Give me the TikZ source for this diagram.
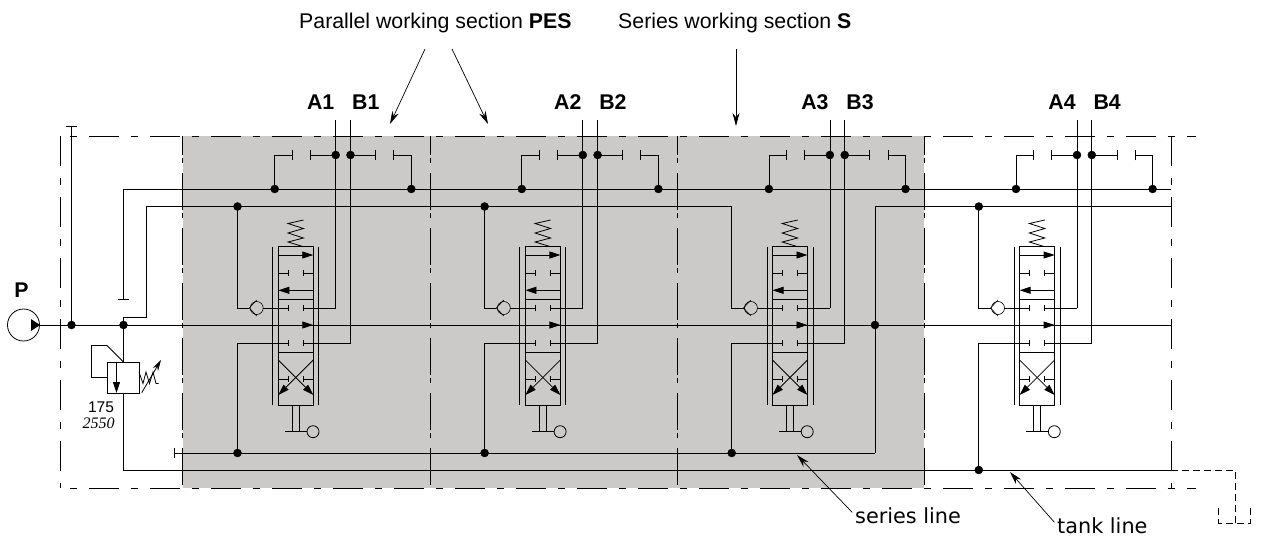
\documentclass[tikz,border=0pt]{standalone}
\usepackage{fontspec}
\setmainfont{Liberation Sans}
\newfontfamily\serifit[ItalicFont=Liberation Serif Italic]{Liberation Serif}
\newfontfamily\notefont{DejaVu Sans}
\usetikzlibrary{arrows.meta}
\definecolor{sectiongray}{HTML}{CBCAC8}
\tikzset{
  pipe/.style={line width=0.8pt,line join=miter},
  stub/.style={pipe,-{Bar[width=6pt,line width=0.8pt]}},
  portcap/.style={pipe,-{Bar[width=10.5pt,line width=0.8pt]}},
  flow/.style={pipe,-{Triangle[length=11pt,width=7pt]}},
  border/.style={line width=0.9pt,dash pattern=on 29.5pt off 12pt on 7.5pt off 12pt},
  divider/.style={line width=0.9pt,dash pattern=on 37pt off 3pt on 4.5pt off 10.5pt},
  pointer/.style={line width=0.7pt,-{Stealth[length=13pt,width=7pt]}},
  drainline/.style={line width=0.6pt,dash pattern=on 7pt off 4pt},
  dot/.style={fill=black,radius=4},
  partlabel/.style={font=\bfseries\fontsize{21.3}{22}\selectfont,inner sep=0pt},
  title/.style={font=\fontsize{21.3}{22}\selectfont,anchor=base west,inner sep=0pt},
  notelabel/.style={font=\notefont\fontsize{20.8}{21}\selectfont,anchor=base west,inner sep=0pt}
}
\begin{document}
\begin{tikzpicture}[x=1pt,y=-1pt]
  \useasboundingbox (0,0) rectangle (1265,538);
  \fill[sectiongray] (183,136) rectangle (924,488);
  % frame and section borders
  \draw[border,dash phase=32.5] (60.5,136)--(1196,136);
  \draw[border,dash phase=32.5] (60.5,488)--(1196,488);
  \foreach \xb in {60.5,1171}
    \draw[border] (\xb,136)--(\xb,488);
  \foreach \xb in {182.5,430,677.5,924}
    \draw[divider,dash phase=17.7] (\xb,136)--(\xb,488);
  % main lines
  \draw[pipe] (39,325)--(1171,325);
  \draw[portcap] (71.5,325)--(71.5,126);
  \draw[portcap] (123.5,189)--(123.5,300);
  \draw[pipe] (123.5,189)--(1171,189);
  \draw[pipe] (123.5,325)--(123.5,317)--(146,317)--(146,206.5)--(732,206.5);
  \draw[pipe] (1171,206.5)--(875,206.5)--(875,453);
  \draw[portcap] (875,453)--(174,453);
  \draw[pipe] (123.5,393)--(123.5,470)--(1171,470);
  \filldraw[dot] (71.5,325) circle;
  \filldraw[dot] (123.5,325) circle;
  \filldraw[dot] (875,325) circle;
  % pump
  \draw[pipe] (23.5,325) circle [radius=16];
  \fill (31,319)--(40,325)--(31,331)--cycle;
  % relief valve
  \draw[pipe] (107.5,362) rectangle (139,393);
  \draw[pipe] (123.5,325)--(123.5,362)--(107,345.5)--(91.5,345.5)--(91.5,377.5)--(107.5,377.5);
  \draw[flow] (116.5,362)--(116.5,393);
  \draw[pipe] (139,372)--(143,383.5)--(146,372)--(149.5,383.5)--(153,372)--(156,383.5)--(158.7,383.5);
  \draw[pipe,-{Stealth[length=11pt,width=6pt]}] (141.7,392.7)--(161,360);
  % working sections
  \foreach \xs/\n [count=\i] in {0/1,247.1/2,494.2/3,741.3/4} {
    \begin{scope}[xshift=\xs pt]
      \node[partlabel,anchor=east] (a\n) at (334.5,102) {A\n};
      \node[partlabel,anchor=west] (b\n) at (352,102) {B\n};
      % ports
      \draw[pipe] (335.7,120)--(335.7,308);
      \draw[stub] (335.7,308)--(303,308);
      \draw[pipe] (350.5,120)--(350.5,343);
      \draw[stub] (350.5,343)--(303,343);
      % port reliefs
      \draw[portcap] (335.7,155)--(310,155);
      \draw[portcap] (274.7,189)--(274.7,155)--(292.7,155);
      \draw[portcap] (350.5,155)--(376,155);
      \draw[portcap] (411.3,189)--(411.3,155)--(393.3,155);
      \filldraw[dot] (335.7,155) circle;
      \filldraw[dot] (350.5,155) circle;
      \filldraw[dot] (274.7,189) circle;
      \filldraw[dot] (411.3,189) circle;
      % check valve
      \draw[pipe] (237.5,206.5)--(237.5,308)--(249.3,308);
      \draw[line width=0.6pt] (256.7,308) circle [radius=6.5];
      \draw[line width=0.6pt] (256.7,300)--(249.3,308)--(256.7,316);
      \draw[stub] (263,308)--(288.3,308);
      % spool
      \draw[pipe] (278.3,246.7) rectangle (313.3,405);
      \draw[pipe] (272.7,246.7)--(272.7,405);
      \draw[pipe] (318.7,246.7)--(318.7,405);
      \draw[pipe] (303.5,246.7)--(288,242)--(303.5,238)--(288,233)--(303.5,228.5)--(288,223.5)--(303.5,220);
      \draw[flow] (278.3,255)--(313.3,255);
      \draw[stub] (278.3,273)--(288.3,273);
      \draw[stub] (313.3,273)--(303,273);
      \draw[flow] (313.3,290.3)--(278.3,290.3);
      \draw[pipe] (278.3,299.3)--(313.3,299.3);
      \draw[flow] (303,325)--(313.3,325);
      \draw[stub] (237.5,343)--(288.3,343);
      \draw[pipe] (278.3,352.3)--(313.3,352.3);
      \draw[flow] (278.3,360)--(313.3,395);
      \draw[flow] (313.3,360)--(278.3,395);
      \draw[stub] (278.3,379)--(288.3,379);
      \draw[stub] (313.3,379)--(303,379);
      % lever
      \draw[pipe] (292.3,405)--(292.3,431.7);
      \draw[pipe] (299.3,405)--(299.3,431.7);
      \draw[pipe] (285,431.7)--(307,431.7);
      \draw[pipe] (313,431.7) circle [radius=6];
      % return
      \ifnum\i<4
        \draw[pipe] (237.5,343)--(237.5,453);
        \filldraw[dot] (237.5,453) circle;
      \else
        \draw[pipe] (237.5,343)--(237.5,470);
        \filldraw[dot] (237.5,470) circle;
      \fi
      \ifnum\i=3\else
        \filldraw[dot] (237.5,206.5) circle;
      \fi
    \end{scope}
  }
  % tank
  \draw[drainline] (1171,470)--(1235,470)--(1235,523);
  \draw[drainline] (1218.5,508)--(1218.5,523)--(1250,523)--(1250,508);
  % labels
  \node[partlabel] (plabel) at (21.5,290) {P};
  \node[font=\fontsize{15.5}{16}\selectfont] (setting) at (101,407) {175};
  \node[font=\serifit\itshape\fontsize{16}{16}\selectfont] (flowrate) at (98.5,423) {2550};
  \node[title] (pes) at (299,28) {Parallel working section \textbf{PES}};
  \node[title] (ser) at (618,28) {Series working section \textbf{S}};
  \node[notelabel] (serline) at (855,523) {series line};
  \node[notelabel] (tankline) at (1057,533) {tank line};
  \coordinate (pes1) at (425,49);
  \coordinate (pes2) at (452,49);
  \coordinate (ser1) at (736,49);
  \draw[pointer] (pes1)--(390,124);
  \draw[pointer] (pes2)--(488,124);
  \draw[pointer] (ser1)--(736,126);
  \draw[pointer,shorten <=4pt] (serline.west)--(797,455);
  \draw[pointer,shorten <=4pt] (tankline.west)--(1010,472);
\end{tikzpicture}
\end{document}
